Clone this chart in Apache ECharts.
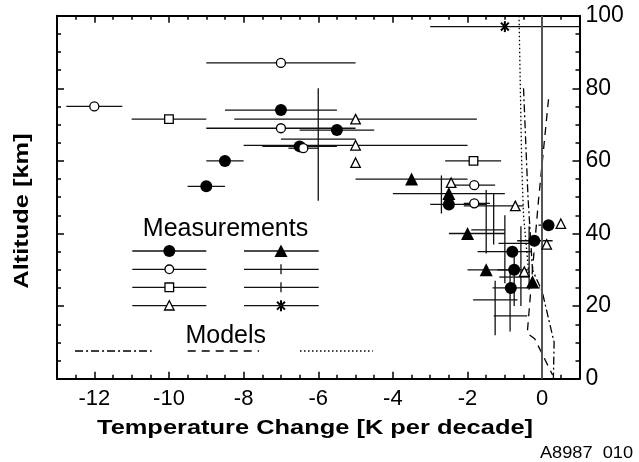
<!DOCTYPE html>
<html>
<head>
<meta charset="utf-8">
<script src="https://cdn.jsdelivr.net/npm/echarts@6/dist/echarts.min.js"></script>
<style>
html,body{margin:0;padding:0;background:#fff;}
#chart{width:639px;height:462px;}
</style>
</head>
<body>
<div id="chart"></div>
<script>
// ---- data: [x, altitude, xLow, xHigh, altLow, altHigh] ----
const filledCircles = [
  [-7, 74, -8.5, -5.5, null, null],
  [-5.5, 68.5, -6.5, -4.5, null, null],
  [-6.5, 64, -7.5, -5.5, null, null],
  [-8.5, 60, -9, -8, null, null],
  [-9, 53, -9.5, -8.5, null, null],
  [-2.5, 48, -3, -1.5, null, null],
  [0.17, 42.3, -0.1, 0.3, null, null],
  [-0.21, 38, -0.67, 0.28, null, null],
  [-0.8, 35, -1.73, -0.27, null, null],
  [-0.75, 30, -1.2, -0.35, null, null],
  [-0.84, 25, -1.33, -0.06, null, null]
];
const openCircles = [
  [-12, 75, -12.75, -11.25, null, null],
  [-7, 87, -9, -5, null, null],
  [-7, 69, -9, -5, null, null],
  [-6.4, 63.5, -6.8, -6.0, null, null],
  [-1.82, 53.3, -2.44, -1.26, null, null],
  [-1.82, 48.3, -2.1, -1.4, null, null]
];
const openSquares = [
  [-10, 71.5, -11, -9, null, null],
  [-1.84, 60, -2.6, -1.1, null, null]
];
const openTriangles = [
  [-5, 71.5, -8.25, -1.75, null, null],
  [-5, 64.3, -8, -2, null, null],
  [-5, 59.5, null, null, null, null],
  [-2.44, 54, null, null, null, null],
  [-0.72, 47.6, -2.1, -0.5, null, null],
  [0.5, 42.7, null, null, null, null],
  [0.12, 37, null, null, null, null],
  [-0.48, 29.5, null, null, null, null]
];
const filledTriangles = [
  [-3.5, 55, -5, -2, null, null],
  [-2.5, 51, -4, -1, null, null],
  [-2, 40, -2.5, -1, null, null],
  [-1.5, 30, -2, -0.8, null, null],
  [-0.26, 26.7, null, null, null, null]
];
const asterisks = [
  [-1, 97, -3, 1, null, null]
];
const plusPoints = [
  [-6, 66, -7, -5, 49, 80],
  [-2.7, 50.5, null, null, 45.5, 56],
  [-1.5, 41, -1.9, -1.0, 34.5, 52],
  [-1.3, 44, null, null, 37, 51],
  [-1.0, 37.3, -1.17, -0.3, 26.3, 45],
  [-0.57, 28, -1.15, -0.35, 20, 42],
  [-0.86, 17.3, -1.3, -0.4, 13, 30.5],
  [-1.26, 21.7, -1.85, -0.66, 12, 27],
  [-0.75, 27, null, null, 20, 34],
  [-0.35, 33, null, null, 24.5, 42]
];
// model profiles [x, altitude]
const modelDashDot = [[-0.5, 80], [-0.38, 50], [-0.26, 30], [0, 24], [0.32, 10], [0.3, 0]];
const modelDashed = [[0.17, 77], [-0.1, 49], [-0.26, 30], [-0.4, 12.5], [-0.2, 11], [0.28, 1]];
const modelDotted = [[-0.62, 100], [-0.55, 60], [-0.5, 45], [-0.35, 28]];

// axis ticks
const xTickLabels = [-12, -10, -8, -6, -4, -2, 0];
const xMinorTicks = [];
for (let v = -13; v <= 1.001; v += 0.5) xMinorTicks.push(v);

const FONT = 'Liberation Sans, Arial, Helvetica, sans-serif';
const INK = '#000';

function errorBars(rows) {
  return {
    type: 'custom', silent: true, z: 2, clip: false,
    data: rows.map(r => [r[0], r[1]]),
    encode: {x: 0, y: 1},
    renderItem: function (params, api) {
      const r = rows[params.dataIndex];
      const ch = [];
      const st = {stroke: '#111', lineWidth: 1.3};
      if (r[2] != null) {
        const a = api.coord([r[2], r[1]]), b = api.coord([r[3], r[1]]);
        ch.push({type: 'line', shape: {x1: a[0], y1: a[1], x2: b[0], y2: b[1]}, style: st});
      }
      if (r[4] != null) {
        const a = api.coord([r[0], r[4]]), b = api.coord([r[0], r[5]]);
        ch.push({type: 'line', shape: {x1: a[0], y1: a[1], x2: b[0], y2: b[1]}, style: st});
      }
      return {type: 'group', children: ch};
    }
  };
}
function markers(rows, symbol, size, filled) {
  return {
    type: 'scatter', silent: true, z: 5,
    data: rows.map(r => [r[0], r[1]]),
    symbol: symbol, symbolSize: size,
    itemStyle: filled ? {color: INK, opacity: 1} : {color: '#fff', borderColor: INK, borderWidth: 1.3, opacity: 1}
  };
}
function asteriskPaths(cx, cy, s) {
  const d = s * 0.72;
  const st = {stroke: INK, lineWidth: 2};
  return [
    {type: 'line', shape: {x1: cx, y1: cy - s, x2: cx, y2: cy + s}, style: st},
    {type: 'line', shape: {x1: cx - d, y1: cy - d, x2: cx + d, y2: cy + d}, style: st},
    {type: 'line', shape: {x1: cx - d, y1: cy + d, x2: cx + d, y2: cy - d}, style: st}
  ];
}
function modelLine(data, dash, width) {
  return {
    type: 'line', data: data, symbol: 'none', silent: true, z: 3,
    lineStyle: {color: INK, width: width, type: dash}
  };
}

const majorTick = {inside: true, length: 7, lineStyle: {color: INK, width: 1.5}};
const minorTick = {inside: true, length: 4, lineStyle: {color: INK, width: 1.5}};
function xAx(pos, ticks, long, labels) {
  return {
    type: 'value', min: -13, max: 1, position: pos,
    axisLine: {show: true, onZero: false, lineStyle: {color: INK, width: 2}},
    axisTick: Object.assign({customValues: ticks}, long ? majorTick : minorTick),
    axisLabel: labels ? {show: true, customValues: xTickLabels, fontSize: 22, color: INK, fontFamily: FONT, margin: 9} : {show: false},
    splitLine: {show: false}
  };
}
function yAx(pos, labels) {
  return {
    type: 'value', min: 0, max: 100, interval: 20, position: pos,
    axisLine: {show: true, onZero: false, lineStyle: {color: INK, width: 2}},
    axisTick: majorTick,
    minorTick: {show: true, splitNumber: 4, length: 4, lineStyle: {color: INK, width: 1.5}},
    axisLabel: labels ? {show: true, fontSize: 23, color: INK, fontFamily: FONT, margin: 6} : {show: false},
    splitLine: {show: false}, minorSplitLine: {show: false}
  };
}

// legend graphics (decoration, pixel placed)
const G = [];
const legendLine = (x1, x2, y) => G.push({type: 'line', shape: {x1, y1: y, x2, y2: y}, style: {stroke: '#111', lineWidth: 1.3}, z: 100});
const rowsY = [251, 269.3, 287.3, 305.7];
const c1 = [132.3, 206.3, 169.3], c2 = [244, 318.7, 281];
rowsY.forEach(y => { legendLine(c1[0], c1[1], y); legendLine(c2[0], c2[1], y); });
G.push({type: 'circle', shape: {cx: c1[2], cy: rowsY[0], r: 6}, style: {fill: INK}, z: 101});
G.push({type: 'circle', shape: {cx: c1[2], cy: rowsY[1], r: 4.3}, style: {fill: '#fff', stroke: INK, lineWidth: 1.3}, z: 101});
G.push({type: 'rect', shape: {x: c1[2] - 4.3, y: rowsY[2] - 4.3, width: 8.6, height: 8.6}, style: {fill: '#fff', stroke: INK, lineWidth: 1.3}, z: 101});
G.push({type: 'polygon', shape: {points: [[c1[2], rowsY[3] - 5], [c1[2] - 4.8, rowsY[3] + 4.3], [c1[2] + 4.8, rowsY[3] + 4.3]]}, style: {fill: '#fff', stroke: INK, lineWidth: 1.3}, z: 101});
G.push({type: 'polygon', shape: {points: [[c2[2], rowsY[0] - 6.5], [c2[2] - 6.5, rowsY[0] + 6], [c2[2] + 6.5, rowsY[0] + 6]]}, style: {fill: INK}, z: 101});
G.push({type: 'line', shape: {x1: c2[2], y1: rowsY[1] - 5, x2: c2[2], y2: rowsY[1] + 5}, style: {stroke: '#111', lineWidth: 1.3}, z: 101});
G.push({type: 'line', shape: {x1: c2[2], y1: rowsY[2] - 5, x2: c2[2], y2: rowsY[2] + 5}, style: {stroke: '#111', lineWidth: 1.3}, z: 101});
G.push({type: 'group', z: 101, children: asteriskPaths(c2[2], rowsY[3], 5.5)});
G.push({type: 'line', shape: {x1: 75, y1: 351, x2: 151.7, y2: 351}, style: {stroke: INK, lineWidth: 1.3, lineDash: [8, 3, 2, 3]}, z: 100});
G.push({type: 'line', shape: {x1: 187.7, y1: 351, x2: 259, y2: 351}, style: {stroke: INK, lineWidth: 1.3, lineDash: [8, 6]}, z: 100});
G.push({type: 'line', shape: {x1: 300, y1: 351, x2: 372.7, y2: 351}, style: {stroke: INK, lineWidth: 1.3, lineDash: [1.5, 2.5]}, z: 100});
G.push({type: 'text', x: 225.5, y: 229.5, z: 101, style: {text: 'Measurements', fontSize: 25, fontFamily: FONT, fill: INK, align: 'center', verticalAlign: 'middle'}});
G.push({type: 'text', x: 225.7, y: 336, z: 101, style: {text: 'Models', fontSize: 25, fontFamily: FONT, fill: INK, align: 'center', verticalAlign: 'middle'}});
// axis titles and figure id
G.push({type: 'text', x: 315, y: 428, scaleX: 1.24, z: 101, style: {text: 'Temperature Change [K per decade]', fontSize: 20.5, fontWeight: 'bold', fontFamily: FONT, fill: INK, align: 'center', verticalAlign: 'middle'}});
G.push({type: 'text', x: 22, y: 211, rotation: Math.PI / 2, scaleX: 1.24, z: 101, style: {text: 'Altitude [km]', fontSize: 20.5, fontWeight: 'bold', fontFamily: FONT, fill: INK, align: 'center', verticalAlign: 'middle'}});
G.push({type: 'text', x: 633, y: 453.5, scaleX: 1.07, z: 101, style: {text: 'A8987  010', fontSize: 17, fontFamily: FONT, fill: INK, align: 'right', verticalAlign: 'middle'}});

const chart = echarts.init(document.getElementById('chart'), null, {renderer: 'canvas'});
chart.setOption({
  animation: false,
  backgroundColor: '#fff',
  grid: {left: 57, right: 59.5, top: 15.7, bottom: 83.3, containLabel: false},
  xAxis: [
    xAx('bottom', xTickLabels, true, true),
    xAx('bottom', xMinorTicks, false, false),
    xAx('top', xTickLabels, true, false),
    xAx('top', xMinorTicks, false, false)
  ],
  yAxis: [yAx('right', true), yAx('left', false)],
  series: [
    {
      type: 'line', data: [], silent: true, symbol: 'none',
      markLine: {silent: true, symbol: 'none', label: {show: false}, animation: false,
        lineStyle: {color: '#555', width: 2, type: 'solid'}, data: [{xAxis: 0}]}
    },
    modelLine(modelDashDot, [8, 3, 2, 3], 1.3),
    modelLine(modelDashed, [8, 6], 1.3),
    modelLine(modelDotted, [1.5, 2.5], 1.3),
    errorBars(plusPoints),
    errorBars(filledCircles),
    errorBars(openCircles),
    errorBars(openSquares),
    errorBars(openTriangles),
    errorBars(filledTriangles),
    errorBars(asterisks),
    markers(filledCircles, 'circle', 12, true),
    markers(openCircles, 'circle', 9, false),
    markers(openSquares, 'rect', 8.6, false),
    markers(openTriangles, 'triangle', 9.5, false),
    markers(filledTriangles, 'triangle', 13, true),
    {
      type: 'custom', silent: true, z: 6, clip: false,
      data: asterisks.map(r => [r[0], r[1]]), encode: {x: 0, y: 1},
      renderItem: function (params, api) {
        const c = api.coord([api.value(0), api.value(1)]);
        return {type: 'group', children: asteriskPaths(c[0], c[1], 5.5)};
      }
    }
  ],
  graphic: G
});
</script>
</body>
</html>
